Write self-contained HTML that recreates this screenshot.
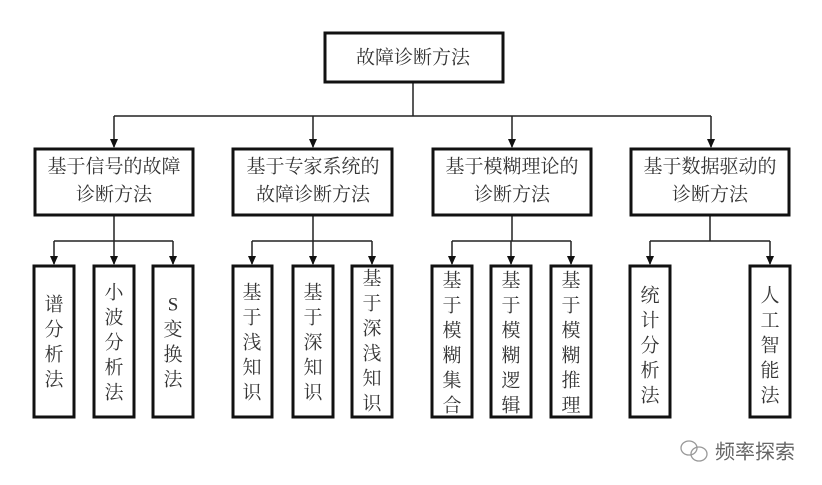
<!DOCTYPE html>
<html><head><meta charset="utf-8"><style>
html,body{margin:0;padding:0;background:#fff;}
svg{display:block}
text{font-family:"Liberation Serif","Noto Serif CJK SC","Noto Sans CJK SC",serif;fill:#333;font-size:19px;text-anchor:middle;dominant-baseline:central}
</style></head><body>
<svg width="822" height="485" viewBox="0 0 822 485" xmlns="http://www.w3.org/2000/svg">
<g stroke="#222" stroke-width="1.5" fill="none">
<path d="M413 82 V116 M114 116 H711"/>
<path d="M114 116 V147 M313 116 V147 M512 116 V147 M711 116 V147"/>
<path d="M114 215 V241 M54 241 H173 M313 215 V241 M252 241 H372 M512 215 V241 M452 241 H571 M710 215 V241 M650 241 H770"/>
<path d="M54 241 V264 M114 241 V264 M173 241 V264 M252 241 V264 M313 241 V264 M372 241 V264 M452 241 V264 M511 241 V264 M571 241 V264 M650 241 V264 M770 241 V264"/>
</g>
<g stroke="#111" stroke-width="3" fill="#fff">
<rect x="325" y="33" width="178" height="49"/>
<rect x="35" y="149" width="158" height="66"/>
<rect x="233" y="149" width="159" height="66"/>
<rect x="433" y="149" width="158" height="66"/>
<rect x="631" y="149" width="158" height="66"/>
<rect x="34" y="266" width="40" height="151"/>
<rect x="94" y="266" width="40" height="151"/>
<rect x="153" y="266" width="40" height="151"/>
<rect x="233" y="266" width="39" height="151"/>
<rect x="293" y="266" width="40" height="151"/>
<rect x="352" y="266" width="40" height="151"/>
<rect x="432" y="266" width="40" height="151"/>
<rect x="491" y="266" width="40" height="151"/>
<rect x="551" y="266" width="40" height="151"/>
<rect x="630" y="266" width="40" height="151"/>
<rect x="750" y="266" width="40" height="151"/>
</g>
<g fill="#111">
<path d="M110 139 L118 139 L114 148 Z"/>
<path d="M309 139 L317 139 L313 148 Z"/>
<path d="M508 139 L516 139 L512 148 Z"/>
<path d="M707 139 L715 139 L711 148 Z"/>
<path d="M50 256 L58 256 L54 265 Z"/>
<path d="M110 256 L118 256 L114 265 Z"/>
<path d="M169 256 L177 256 L173 265 Z"/>
<path d="M248 256 L256 256 L252 265 Z"/>
<path d="M309 256 L317 256 L313 265 Z"/>
<path d="M368 256 L376 256 L372 265 Z"/>
<path d="M448 256 L456 256 L452 265 Z"/>
<path d="M507 256 L515 256 L511 265 Z"/>
<path d="M567 256 L575 256 L571 265 Z"/>
<path d="M646 256 L654 256 L650 265 Z"/>
<path d="M766 256 L774 256 L770 265 Z"/>
</g>
<text x="413" y="58">故障诊断方法</text>
<text x="114" y="167">基于信号的故障</text><text x="114" y="195">诊断方法</text>
<text x="313" y="167">基于专家系统的</text><text x="313" y="195">故障诊断方法</text>
<text x="512" y="167">基于模糊理论的</text><text x="512" y="195">诊断方法</text>
<text x="710" y="167">基于数据驱动的</text><text x="710" y="195">诊断方法</text>
<g>
<text x="54" y="305">谱</text><text x="54" y="330">分</text><text x="54" y="355">析</text><text x="54" y="380">法</text>
<text x="114" y="293">小</text><text x="114" y="318">波</text><text x="114" y="343">分</text><text x="114" y="368">析</text><text x="114" y="393">法</text>
<text x="173" y="305">S</text><text x="173" y="330">变</text><text x="173" y="355">换</text><text x="173" y="380">法</text>
<text x="252" y="293">基</text><text x="252" y="318">于</text><text x="252" y="343">浅</text><text x="252" y="368">知</text><text x="252" y="393">识</text>
<text x="313" y="293">基</text><text x="313" y="318">于</text><text x="313" y="343">深</text><text x="313" y="368">知</text><text x="313" y="393">识</text>
<text x="372" y="279">基</text><text x="372" y="304">于</text><text x="372" y="329">深</text><text x="372" y="354">浅</text><text x="372" y="379">知</text><text x="372" y="404">识</text>
<text x="452" y="281">基</text><text x="452" y="306">于</text><text x="452" y="331">模</text><text x="452" y="356">糊</text><text x="452" y="381">集</text><text x="452" y="406">合</text>
<text x="511" y="281">基</text><text x="511" y="306">于</text><text x="511" y="331">模</text><text x="511" y="356">糊</text><text x="511" y="381">逻</text><text x="511" y="406">辑</text>
<text x="571" y="281">基</text><text x="571" y="306">于</text><text x="571" y="331">模</text><text x="571" y="356">糊</text><text x="571" y="381">推</text><text x="571" y="406">理</text>
<text x="650" y="296">统</text><text x="650" y="321">计</text><text x="650" y="346">分</text><text x="650" y="371">析</text><text x="650" y="396">法</text>
<text x="770" y="296">人</text><text x="770" y="321">工</text><text x="770" y="346">智</text><text x="770" y="371">能</text><text x="770" y="396">法</text>
</g>
<g fill="none" stroke="#999" stroke-width="1.3">
<ellipse cx="689" cy="448" rx="8" ry="7"/>
<ellipse cx="699" cy="454" rx="8" ry="7"/>
</g>
<text x="755" y="450" style="fill:#666;font-size:20px;font-family:'Noto Sans CJK SC',sans-serif">频率探索</text>
</svg>
</body></html>
